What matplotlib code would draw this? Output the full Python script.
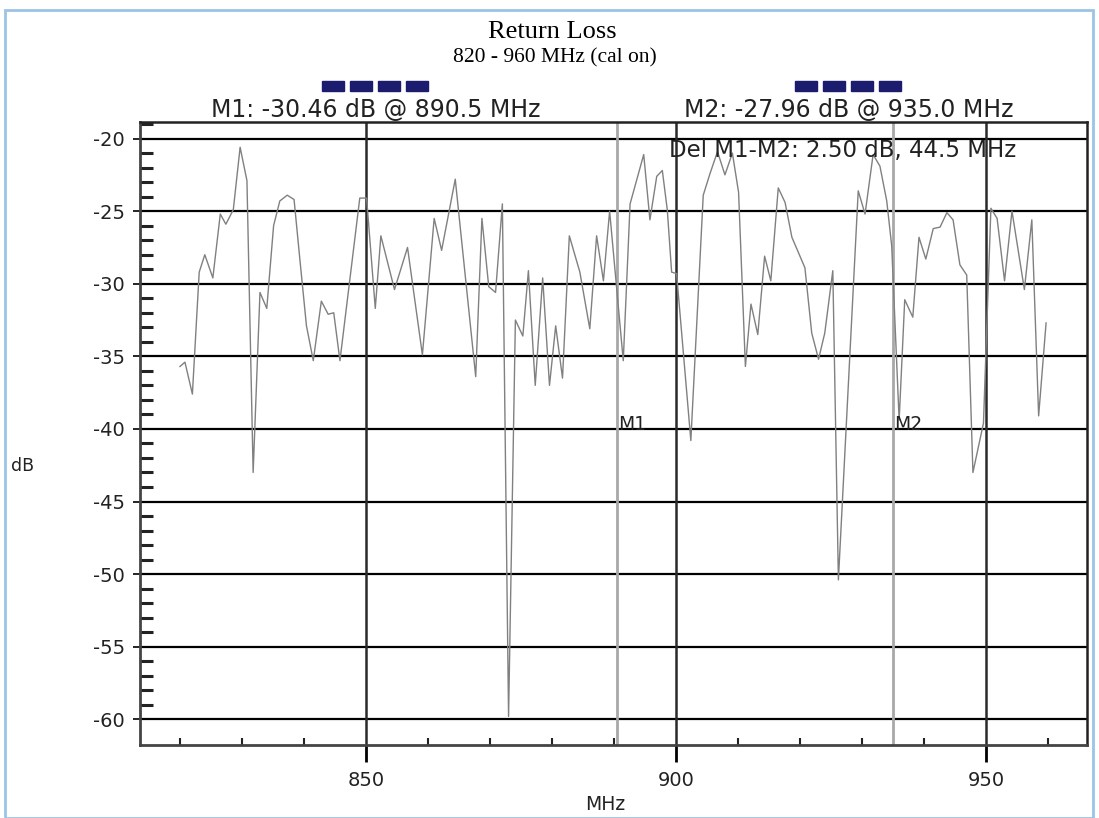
import matplotlib
matplotlib.use('Agg')
import matplotlib.pyplot as plt
from matplotlib.patches import Rectangle
from matplotlib.ticker import FixedLocator

plt.rcParams['axes.unicode_minus'] = False

# trace (MHz, dB)
freq_mhz = [820.0, 820.8, 822.0, 823.1, 824.0, 825.3, 826.5, 827.4, 828.6, 829.7,
            830.8, 831.8, 832.9, 834.0, 835.1, 836.1, 837.3, 838.4, 839.4, 840.4,
            841.5, 842.8, 843.9, 844.8, 845.8, 849.0, 850.1, 851.5, 852.4, 854.6,
            856.7, 859.1, 861.0, 862.2, 864.4, 867.7, 868.7, 869.8, 870.9, 872.0,
            873.0, 874.1, 875.3, 876.2, 877.3, 878.5, 879.6, 880.6, 881.7, 882.8,
            884.5, 886.1, 887.2, 888.3, 889.3, 891.5, 892.6, 894.8, 895.8, 896.9,
            897.8, 898.6, 899.3, 900.1, 902.4, 904.4, 905.5, 906.7, 907.9, 909.1,
            910.1, 911.2, 912.1, 913.2, 914.3, 915.3, 916.5, 917.6, 918.7, 920.8,
            921.9, 923.0, 924.0, 925.3, 926.2, 929.4, 930.5, 931.8, 932.9, 934.0,
            934.8, 936.0, 936.9, 938.2, 939.2, 940.3, 941.5, 942.6, 943.7, 944.7,
            945.8, 946.9, 947.9, 949.6, 950.8, 951.8, 953.0, 954.2, 956.2, 957.4,
            958.5, 959.7]
return_loss_db = [-35.7, -35.4, -37.6, -29.2, -28.0, -29.6, -25.2, -25.9, -24.9, -20.6,
                  -22.9, -43.0, -30.6, -31.7, -26.0, -24.3, -23.9, -24.2, -28.6, -32.9,
                  -35.3, -31.2, -32.1, -32.0, -35.3, -24.1, -24.1, -31.7, -26.7, -30.4,
                  -27.5, -34.9, -25.5, -27.7, -22.8, -36.4, -25.5, -30.2, -30.6, -24.5,
                  -59.8, -32.5, -33.6, -29.1, -37.0, -29.6, -37.0, -32.9, -36.5, -26.7,
                  -29.2, -33.1, -26.7, -29.8, -25.0, -35.3, -24.5, -21.1, -25.6, -22.6,
                  -22.2, -24.9, -29.2, -29.3, -40.8, -23.9, -22.4, -20.9, -22.5, -21.0,
                  -23.7, -35.7, -31.4, -33.5, -28.1, -29.8, -23.4, -24.4, -26.8, -28.9,
                  -33.4, -35.2, -33.4, -29.1, -50.4, -23.6, -25.2, -21.1, -21.9, -24.3,
                  -27.4, -39.4, -31.1, -32.3, -26.8, -28.3, -26.2, -26.1, -25.1, -25.6,
                  -28.7, -29.4, -43.0, -39.6, -24.8, -25.5, -29.8, -25.0, -30.4, -25.6,
                  -39.1, -32.7]

y_ticks = [-20, -25, -30, -35, -40, -45, -50, -55, -60]
x_ticks = [850, 900, 950]
marker_names = ['M1', 'M2']
marker_freq = [890.5, 935.0]
marker_db = [-30.46, -27.96]

W, H = 1099, 818


def fig_xy(x, y):
    """pixel position (from top left) -> figure fraction"""
    return x / W, 1 - y / H


fig = plt.figure(figsize=(W / 100, H / 100), dpi=100)
ax = fig.add_axes([140 / W, 1 - 745 / H, 947 / W, 623 / H])
ax.set_xlim(813.55, 966.3)
ax.set_ylim(-61.77, -18.86)

# light blue frame round the screenshot
fig.patches.append(Rectangle(fig_xy(5, 818), 1088 / W, 808 / H, transform=fig.transFigure,
                             fill=False, edgecolor='#9dc3e6', lw=2))

# grid
for y in y_ticks:
    ax.axhline(y, color='black', lw=1.6, zorder=1)
for x in x_ticks:
    ax.axvline(x, color='#2a2a2a', lw=1.8, zorder=1)
for f in marker_freq:
    ax.axvline(f, color='#a8a8a8', lw=2, zorder=1)

ax.plot(freq_mhz, return_loss_db, color='#808080', lw=1.0, zorder=3)

for name, f in zip(marker_names, marker_freq):
    ax.text(f + 0.2, -39.7, name, fontsize=13.5, color='#222222', va='center', ha='left')

# ticks
ax.set_yticks(y_ticks)
ax.yaxis.set_minor_locator(FixedLocator([v for v in range(-59, -18) if v % 5]))
ax.tick_params(axis='y', which='minor', direction='in', length=9, width=2.2, color='#222222')
ax.tick_params(axis='y', which='major', direction='out', length=5, width=1.2,
               labelsize=14, pad=6, labelcolor='#222222')
ax.set_xticks(x_ticks)
ax.xaxis.set_minor_locator(FixedLocator([v for v in range(820, 961, 10) if v % 50]))
ax.tick_params(axis='x', which='minor', direction='in', length=5, width=1.5, color='#222222')
ax.tick_params(axis='x', which='major', direction='out', length=12, width=2,
               labelsize=14, pad=7, labelcolor='#222222')

for side in ['left', 'bottom']:
    ax.spines[side].set_linewidth(2)
    ax.spines[side].set_color('#444444')
for side in ['top', 'right']:
    ax.spines[side].set_linewidth(1.8)
    ax.spines[side].set_color('#222222')

fig.text(*fig_xy(605, 805), 'MHz', fontsize=13.5, ha='center', va='center', color='#222222')
fig.text(*fig_xy(23, 466), 'dB', fontsize=12.5, ha='center', va='center', color='#222222')

# header
fig.text(*fig_xy(552, 32), 'Return Loss', family='Liberation Serif', fontsize=19,
         ha='center', va='center')
fig.text(*fig_xy(555, 58), '820 - 960 MHz (cal on)', family='Liberation Serif', fontsize=15.5,
         ha='center', va='center')

header_cx = [376, 849]
for name, f, db, cx in zip(marker_names, marker_freq, marker_db, header_cx):
    for k in range(4):
        fig.patches.append(Rectangle(fig_xy(cx - 54 + k * 28, 91), 22 / W, 10 / H,
                                     transform=fig.transFigure, color='#1c1c6e'))
    fig.text(*fig_xy(cx, 110), f'{name}: {db:.2f} dB @ {f:.1f} MHz', fontsize=17,
             ha='center', va='center', color='#222222')

delta_db = abs(marker_db[0] - marker_db[1])
delta_f = marker_freq[1] - marker_freq[0]
ax.text(898.9, -20.8, f'Del M1-M2: {delta_db:.2f} dB, {delta_f:.1f} MHz', fontsize=16.5,
        ha='left', va='center', color='#222222', zorder=4)

fig.savefig('out.png', dpi=100)
